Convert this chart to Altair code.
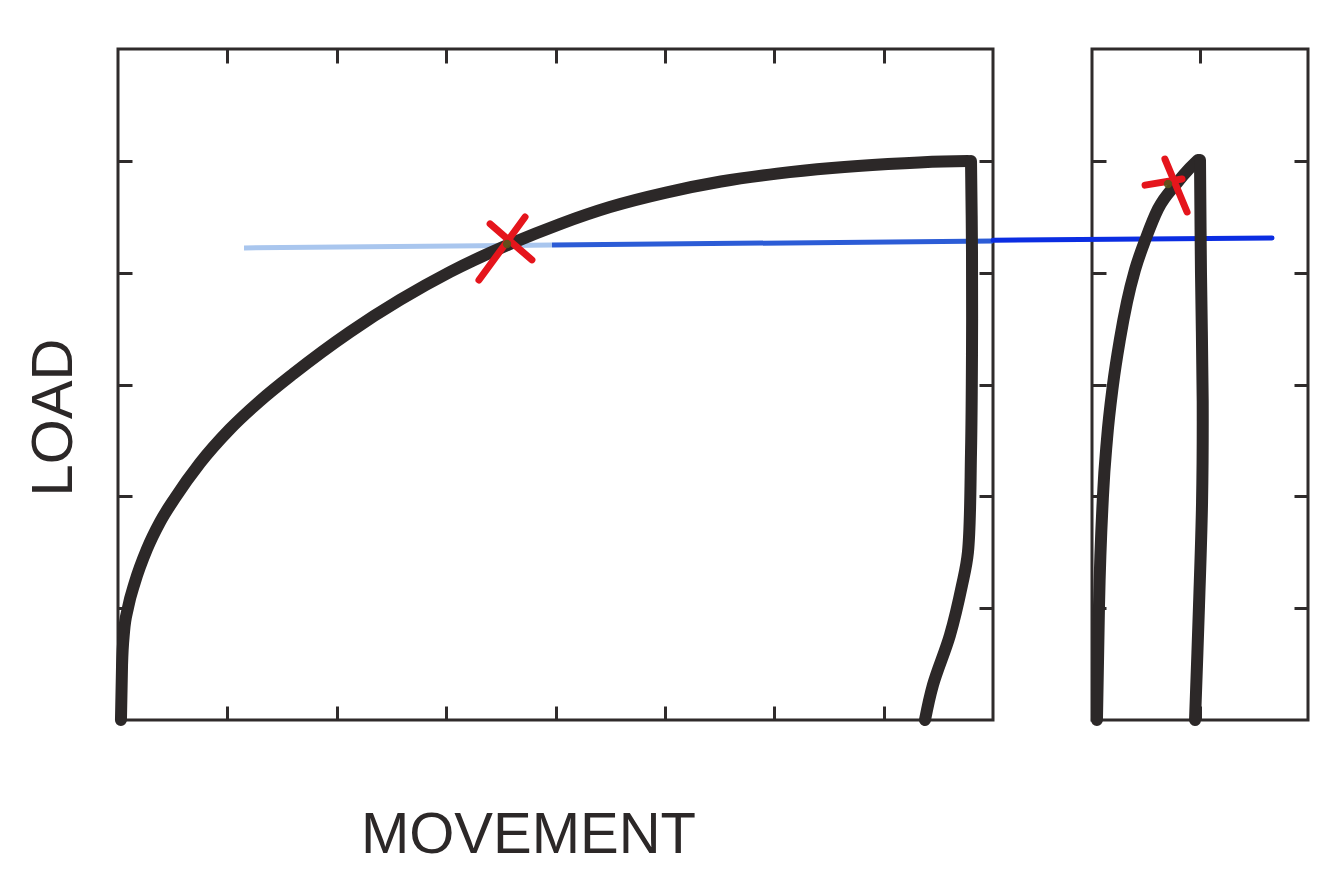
import altair as alt
import pandas as pd

# ---------------- data (movement units on x, load units on y) ----------------
# left panel: first loading curve and the unloading branch
left_load_x = [0.027, 0.037, 0.055, 0.091, 0.155, 0.265, 0.384, 0.521, 0.750, 1.024,
               1.298, 1.600, 2.121, 2.578, 3.035, 3.584, 4.041, 4.498, 5.010, 5.513,
               6.025, 6.528, 7.040, 7.543, 7.771]
left_load_y = [0.000, 0.492, 0.787, 1.002, 1.234, 1.529, 1.770, 1.985, 2.298, 2.602,
               2.853, 3.094, 3.470, 3.756, 4.006, 4.256, 4.435, 4.587, 4.716, 4.815,
               4.886, 4.936, 4.971, 4.994, 4.998]
left_unload_x = [7.799, 7.808, 7.808, 7.799, 7.771, 7.717, 7.607, 7.451, 7.378]
left_unload_y = [4.998, 4.185, 3.291, 2.396, 1.502, 1.207, 0.760, 0.313, 0.000]

# right panel: reloading curve and unloading branch
right_load_x = [0.046, 0.065, 0.102, 0.139, 0.194, 0.259, 0.324, 0.398, 0.500, 0.611,
                0.787, 0.907, 0.981]
right_load_y = [0.000, 1.028, 2.012, 2.513, 2.996, 3.407, 3.738, 4.024, 4.310, 4.569,
                4.802, 4.936, 5.007]
right_unload_x = [1.000, 1.009, 1.025, 1.019, 0.991, 0.954]
right_unload_y = [5.007, 4.006, 2.844, 1.949, 1.028, 0.000]

# blue reference load line
blue_left_seg = ["faint", "faint", "mid", "mid"]
blue_left_x = [1.152, 3.968, 3.968, 8.000]
blue_left_y = [4.221, 4.247, 4.247, 4.283]
blue_right_y = [4.290, 4.310]
blue_right_end_x = 1.667

# red crosses
cross_left = (3.557, 4.256)
cross_right = (0.704, 4.793)

# tick values
left_x_ticks = [1, 2, 3, 4, 5, 6, 7]
right_x_ticks = [1]
y_ticks = [1, 2, 3, 4, 5]

# ---------------- styling ----------------
INK = "#2c2828"
FRAME = "#2f2b2b"
RED = "#e5151c"
OLIVE = "#55541c"
W_L, W_R, H = 875, 216, 671
GAP = 99
TICK = 14
FONT = "Liberation Sans"
TITLE_SIZE = 58

x_left = alt.Scale(domain=[0, 8], nice=False, zero=False)
x_right = alt.Scale(domain=[0, 2], nice=False, zero=False)
y_sc = alt.Scale(domain=[0, 6], nice=False, zero=False)


def axis(orient, values, title=None, **kw):
    return alt.Axis(orient=orient, values=values, labels=False, domain=False, grid=False,
                    ticks=True, tickSize=TICK, offset=-TICK, tickColor=FRAME, tickWidth=3,
                    tickCap="butt", title=title, titleFont=FONT, titleFontSize=TITLE_SIZE,
                    titleFontWeight="normal", titleColor=INK, **kw)


def curve_df(xs, ys):
    return pd.DataFrame({"x": xs, "y": ys, "o": list(range(len(xs)))})


def curve_layer(df, xs, interp, x_axis=None, y_axis=None):
    return alt.Chart(df).mark_line(
        interpolate=interp, strokeWidth=12, strokeCap="round",
        strokeJoin="round", color=INK
    ).encode(
        x=alt.X("x:Q", scale=xs, axis=x_axis),
        y=alt.Y("y:Q", scale=y_sc, axis=y_axis),
        order="o:Q",
    )


def cross_layer(pos, xs, path, size):
    df = pd.DataFrame({"x": [pos[0]], "y": [pos[1]]})
    base = alt.Chart(df).encode(
        x=alt.X("x:Q", scale=xs, axis=None), y=alt.Y("y:Q", scale=y_sc, axis=None)
    )
    return [
        base.mark_point(shape=path, filled=False, stroke=RED, strokeWidth=7,
                        strokeCap="round", size=size, opacity=1),
        base.mark_point(shape="circle", filled=True, color=OLIVE, size=70, opacity=0.9),
    ]


# ---------------- left panel ----------------
blue_left = pd.DataFrame({"seg": blue_left_seg, "x": blue_left_x, "y": blue_left_y})
blue_l = alt.Chart(blue_left).mark_line(strokeWidth=5, strokeCap="butt").encode(
    x=alt.X("x:Q", scale=x_left, axis=axis("top", left_x_ticks)),
    y=alt.Y("y:Q", scale=y_sc, axis=axis("right", y_ticks)),
    color=alt.Color("seg:N", scale=alt.Scale(domain=["faint", "mid"],
                                             range=["#a9c6ee", "#2c5cd6"]), legend=None),
)
load_l = curve_layer(
    curve_df(left_load_x, left_load_y), x_left, "monotone",
    x_axis=axis("bottom", left_x_ticks, title="MOVEMENT", titleX=410, titlePadding=85),
    y_axis=axis("left", y_ticks, title="LOAD", titleY=368, titlePadding=33),
)
unload_l = curve_layer(curve_df(left_unload_x, left_unload_y), x_left, "catmull-rom")
left = alt.layer(
    blue_l, load_l, unload_l,
    *cross_layer(cross_left, x_left, "M0.5,-0.75L-0.78,1M-0.47,-0.56L0.69,0.44", 5184),
).resolve_axis(x="independent", y="independent").properties(width=W_L, height=H)

# ---------------- right panel ----------------
gap_start = -GAP / (W_R / (x_right.domain[1] - x_right.domain[0]))
blue_right = pd.DataFrame({"x": [gap_start, blue_right_end_x], "y": blue_right_y})
blue_r = alt.Chart(blue_right).mark_line(strokeWidth=5, strokeCap="round",
                                         color="#0b2de2", clip=False).encode(
    x=alt.X("x:Q", scale=x_right, axis=axis("top", right_x_ticks)),
    y=alt.Y("y:Q", scale=y_sc, axis=axis("right", y_ticks)),
)
load_r = curve_layer(curve_df(right_load_x, right_load_y), x_right, "monotone",
                     x_axis=axis("bottom", right_x_ticks), y_axis=axis("left", y_ticks))
unload_r = curve_layer(curve_df(right_unload_x, right_unload_y), x_right, "catmull-rom")
right = alt.layer(
    blue_r, load_r, unload_r,
    *cross_layer(cross_right, x_right, "M-0.82,0.04L0.5,-0.18M-0.11,-0.89L0.68,1", 3136),
).resolve_axis(x="independent", y="independent").properties(width=W_R, height=H)

chart = alt.hconcat(left, right, spacing=GAP, bounds="flush").configure_view(
    stroke=FRAME, strokeWidth=3, fill="white"
).properties(
    background="white",
    padding={"left": 16, "top": 38, "right": 5, "bottom": 5},
)

chart.save("out.html", embed_options={"renderer": "svg", "actions": False})
